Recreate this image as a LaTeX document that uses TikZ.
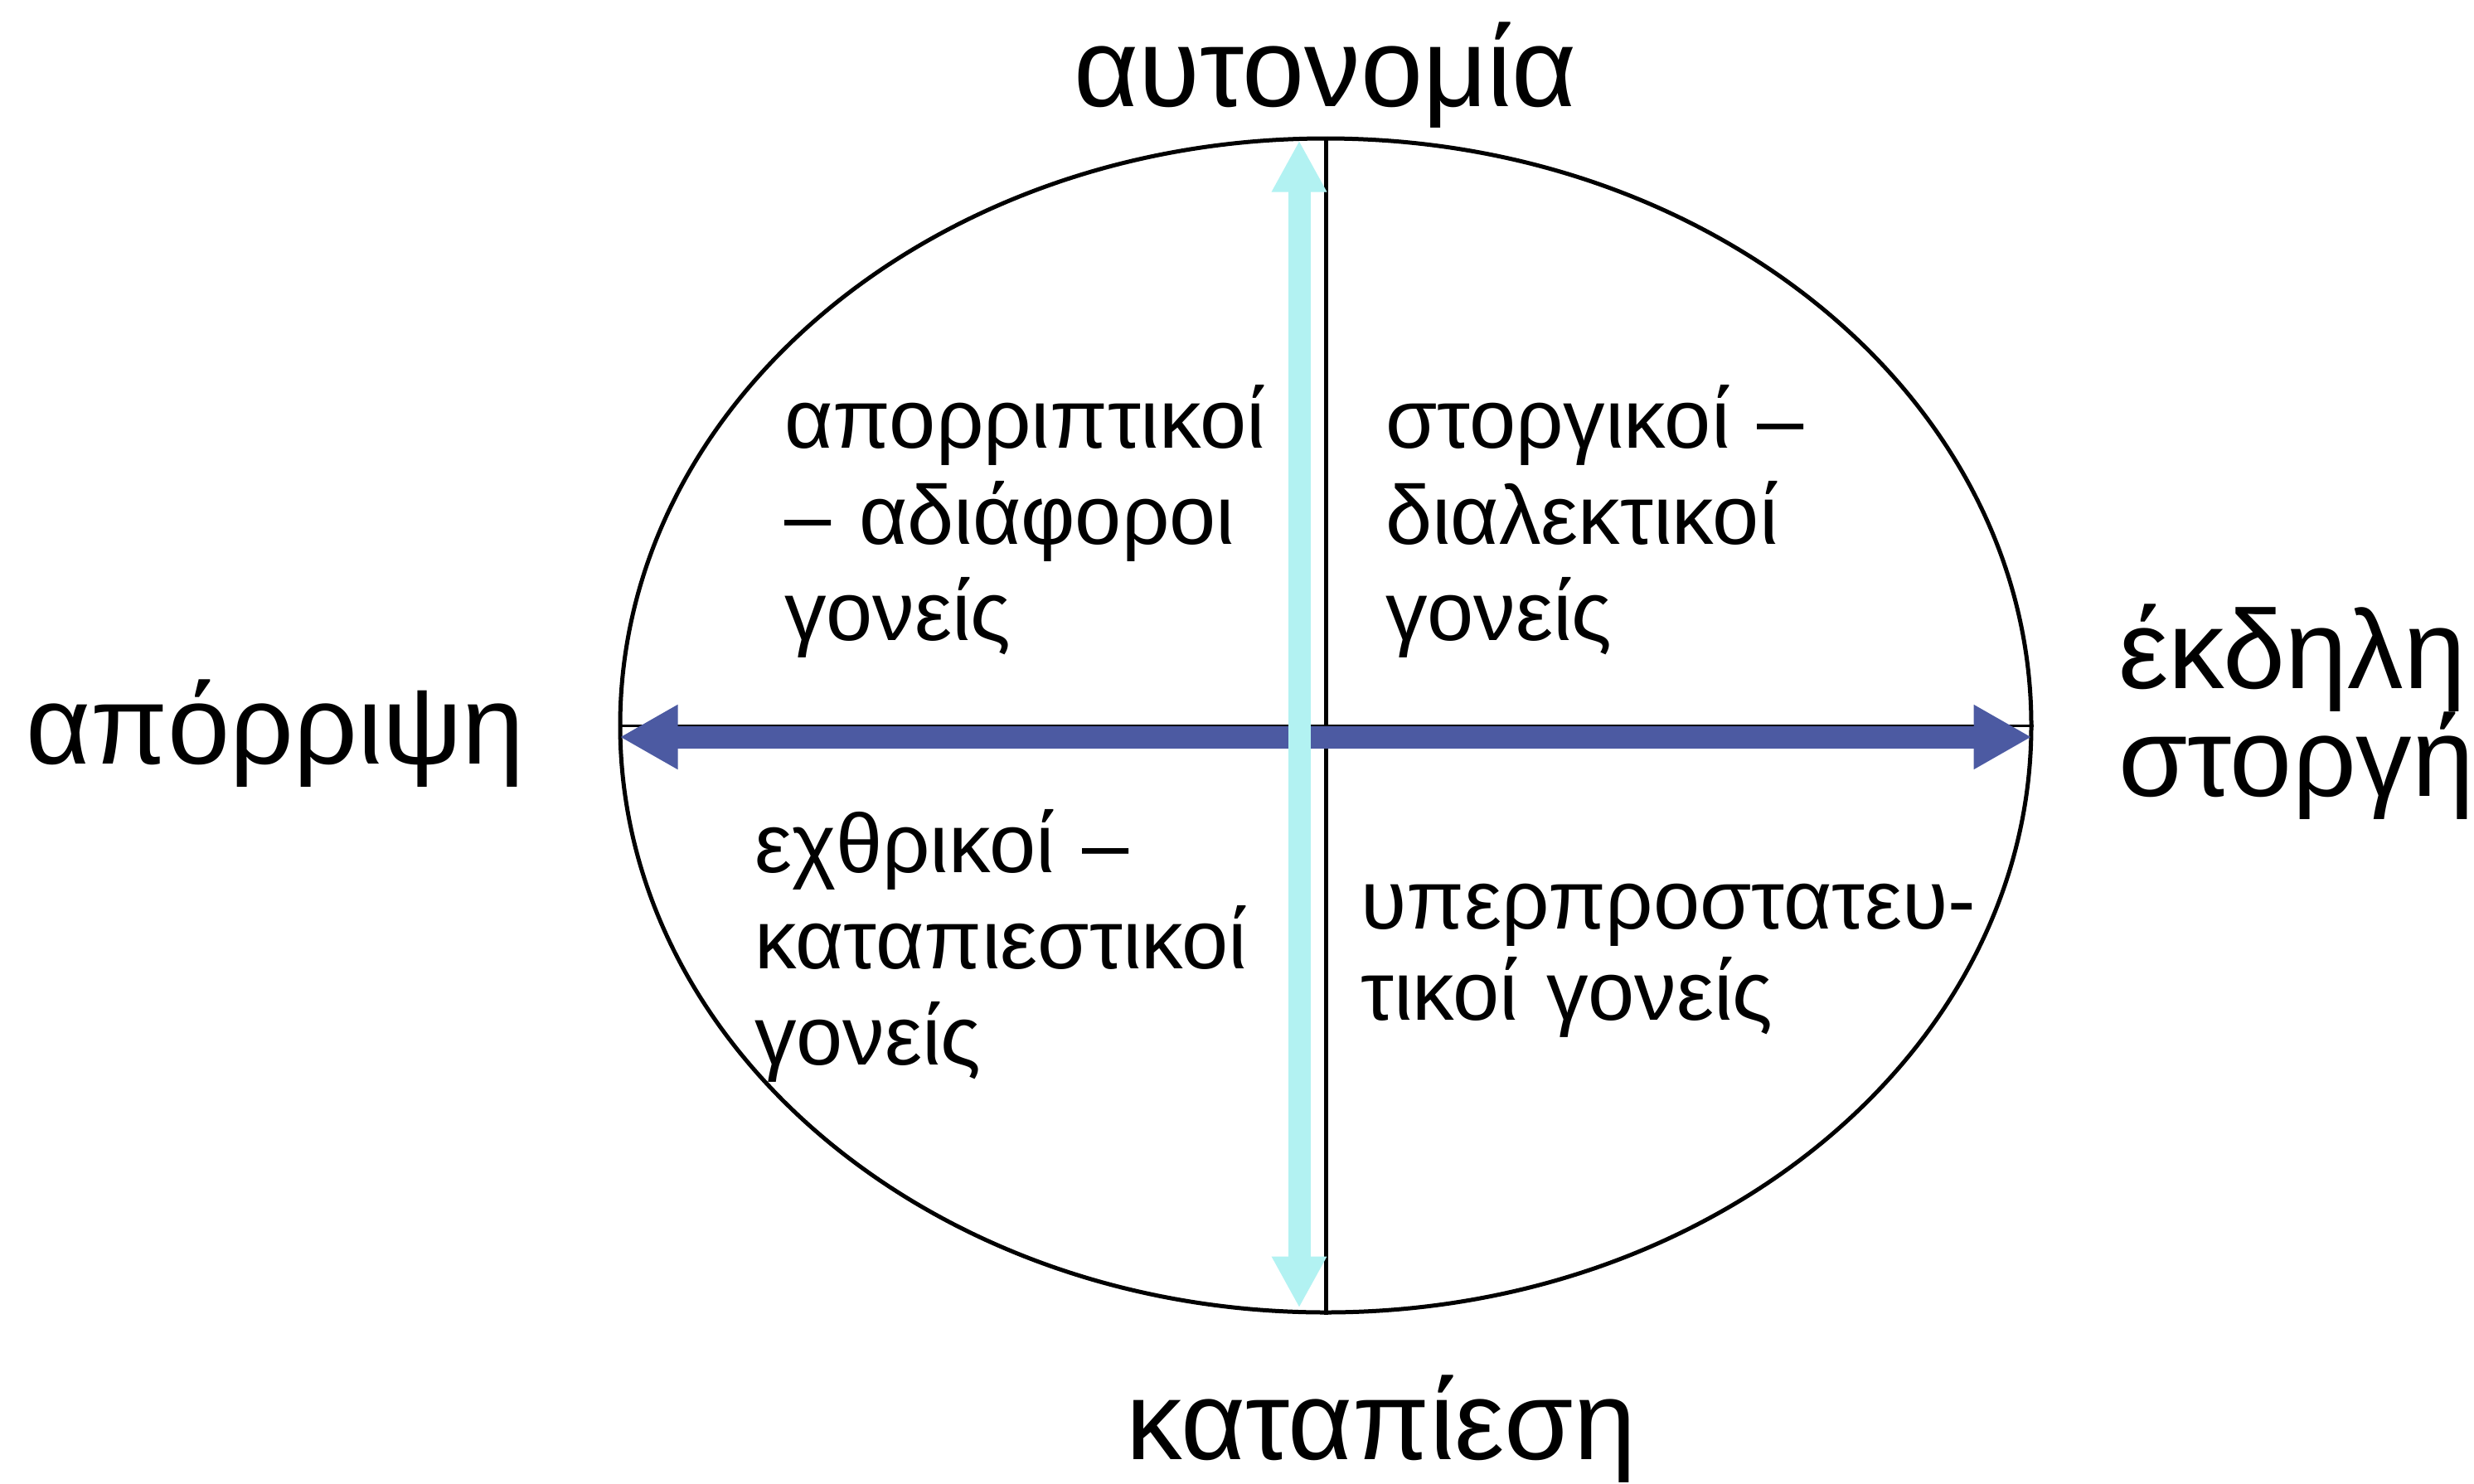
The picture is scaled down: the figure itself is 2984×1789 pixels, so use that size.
\documentclass[tikz,border=0pt]{standalone}
\usepackage{fontspec}
\setmainfont{Liberation Sans}
\usetikzlibrary{arrows.meta,shapes.geometric,calc}
\definecolor{axisblue}{RGB}{76,90,162}
\definecolor{axiscyan}{RGB}{178,242,242}
\setlength\parindent{0pt}
\begin{document}
\begin{tikzpicture}[x=1pt,y=-1pt,
  outer/.style={font=\fontsize{135}{106}\selectfont, inner sep=0pt, anchor=base west},
  quad/.style={font=\fontsize{101}{116}\selectfont, inner sep=0pt, anchor=base west, text width=900pt, align=left},
  bluearrow/.style={axisblue, line width=27pt, {Triangle[length=70pt,width=73pt]}-{Triangle[length=70pt,width=73pt]}},
  cyanarrow/.style={axiscyan, line width=27pt, {Triangle[length=62pt,width=62pt]}-{Triangle[length=62pt,width=62pt]}}
]
\useasboundingbox (0,0) rectangle (2984,1789);
\node[draw, line width=5pt, ellipse, minimum width=1702pt, minimum height=1416pt, inner sep=0pt] (E) at (1599,875) {};
\draw[line width=3pt] (E.west) -- (E.east);
\draw[line width=5pt] (E.north) -- (E.south);
\draw[bluearrow] ($(E.west)+(2,14)$) -- ($(E.east)+(-2,14)$);
\draw[cyanarrow] ($(E.north)+(-32,5)$) -- ($(E.south)+(-32,-8)$);

\node[outer] (top) at (1295,128) {αυτονομία};
\node[outer] (left) at (31,921) {απόρριψη};
\node[outer, text width=500pt, align=left] (right) at (2555,830) {έκδηλη\\στοργή};
\node[outer] (bottom) at (1358,1760) {καταπίεση};

\node[quad] (q1) at (946,540) {απορριπτικοί\\– αδιάφοροι\\γονείς};
\node[quad] (q2) at (1671,540) {στοργικοί –\\διαλεκτικοί\\γονείς};
\node[quad] (q3) at (910,1052) {εχθρικοί –\\καταπιεστικοί\\γονείς};
\node[quad, font=\fontsize{101}{110}\selectfont] (q4) at (1641,1120) {υπερπροστατευ-\\τικοί γονείς};
\end{tikzpicture}
\end{document}
